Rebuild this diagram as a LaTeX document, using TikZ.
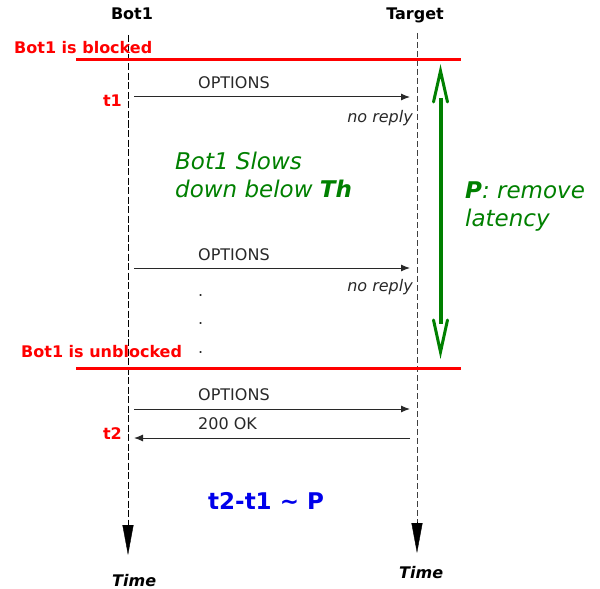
\documentclass[tikz,border=0pt]{standalone}
\usepackage{fontspec}
\setmainfont{DejaVu Sans}
\usetikzlibrary{arrows.meta}
\definecolor{msgcol}{RGB}{40,40,40}
\definecolor{grn}{RGB}{0,128,0}
\definecolor{blu}{RGB}{0,0,235}
\tikzset{
  txt/.style={inner sep=0pt, anchor=base west, font=\fontsize{16bp}{19bp}\selectfont},
  big/.style={inner sep=0pt, anchor=base west, font=\fontsize{23bp}{27bp}\selectfont},
  redlbl/.style={txt, text=red, font=\fontsize{16bp}{19bp}\selectfont\bfseries},
  msglbl/.style={txt, text=msgcol},
  noreply/.style={inner sep=0pt, anchor=base east, text=msgcol, font=\fontsize{16bp}{19bp}\selectfont\itshape},
  lifeline/.style={line width=1bp, dash pattern=on 7bp off 2.5bp},
  lifeend/.style={-{Triangle[length=30bp,width=11bp]}},
  blockline/.style={red, line width=3bp},
  msg/.style={msgcol, line width=1bp, -{Latex[length=9bp,width=7bp]}},
  barb/.style={grn, line width=3bp, line cap=round, line join=miter},
}
\begin{document}
\begin{tikzpicture}[x=1bp,y=-1bp]
\useasboundingbox (0,0) rectangle (600,589);
% headers
\node[inner sep=0pt, anchor=base, font=\fontsize{16bp}{19bp}\selectfont\bfseries] (hbot) at (132,20) {Bot1};
\node[inner sep=0pt, anchor=base, font=\fontsize{16bp}{19bp}\selectfont\bfseries] (htgt) at (415,20) {Target};
% lifelines
\coordinate (b0) at (128,35);
\coordinate (b1) at (128,555);
\coordinate (t0) at (417,33);
\coordinate (t1) at (417,553);
\draw[lifeline] (b0) -- (128,527);
\draw[lifeline, black!75, dash pattern=on 6bp off 3bp] (t0) -- (417,525);
\draw[lifeend] (128,524) -- (b1);
\draw[lifeend] (417,522) -- (t1);
\node[inner sep=0pt, anchor=base west, font=\fontsize{16bp}{19bp}\selectfont\bfseries\itshape] (time1) at (112,586) {Time};
\node[inner sep=0pt, anchor=base west, font=\fontsize{16bp}{19bp}\selectfont\bfseries\itshape] (time2) at (399,578) {Time};
% blocked lines
\coordinate (r1a) at (76,60); \coordinate (r1b) at (461,60);
\coordinate (r2a) at (76,368); \coordinate (r2b) at (461,368);
\draw[blockline] (r1a) -- (r1b);
\draw[blockline] (r2a) -- (r2b);
\node[redlbl] (blk) at (14,54) {Bot1 is blocked};
\node[redlbl] (ublk) at (21,357) {Bot1 is unblocked};
\node[redlbl, anchor=base east] (lt1) at (122,107) {t1};
\node[redlbl, anchor=base east] (lt2) at (122,439) {t2};
% messages
\coordinate (m1a) at (134,97); \coordinate (m1b) at (410,97);
\coordinate (m2a) at (134,268); \coordinate (m2b) at (410,268);
\coordinate (m3a) at (134,409); \coordinate (m3b) at (410,409);
\coordinate (m4a) at (410,438); \coordinate (m4b) at (134,438);
\draw[msg] (m1a) -- (m1b);
\draw[msg] (m2a) -- (m2b);
\draw[msg] (m3a) -- (m3b);
\draw[msg] (m4a) -- (m4b);
\node[msglbl] (o1) at (198,89) {OPTIONS};
\node[msglbl] (o2) at (198,260) {OPTIONS};
\node[msglbl] (o3) at (198,400) {OPTIONS};
\node[msglbl] (ok) at (198,429) {200 OK};
\node[noreply] (nr1) at (413,123) {no reply};
\node[noreply] (nr2) at (413,291) {no reply};
\node[msglbl] (d1) at (198,296) {.};
\node[msglbl] (d2) at (198,324) {.};
\node[msglbl] (d3) at (198,353) {.};
% slows text
\node[big, text=grn, font=\fontsize{23bp}{27bp}\selectfont\itshape] (sl1) at (175,170) {Bot1 Slows};
\node[big, text=grn, font=\fontsize{23bp}{27bp}\selectfont\itshape] (sl2) at (175,197) {down below \textbf{Th}};
% green double arrow
\coordinate (gtop) at (440.5,71);
\coordinate (gbot) at (440.5,352);
\draw[grn, line width=4bp] (440.5,98) -- (440.5,324);
\draw[barb] (433.5,102) -- (gtop) -- (447.5,102);
\draw[barb] (433.5,320) -- (gbot) -- (447.5,320);
\node[big, text=grn, font=\fontsize{23bp}{27bp}\selectfont\itshape] (p1) at (465,198) {\textbf{P}: remove};
\node[big, text=grn, font=\fontsize{23bp}{27bp}\selectfont\itshape] (p2) at (465,226) {latency};
% result
\node[big, text=blu, font=\fontsize{23bp}{27bp}\selectfont\bfseries] (res) at (208,509) {t2-t1 \textasciitilde{} P};
\end{tikzpicture}
\end{document}
